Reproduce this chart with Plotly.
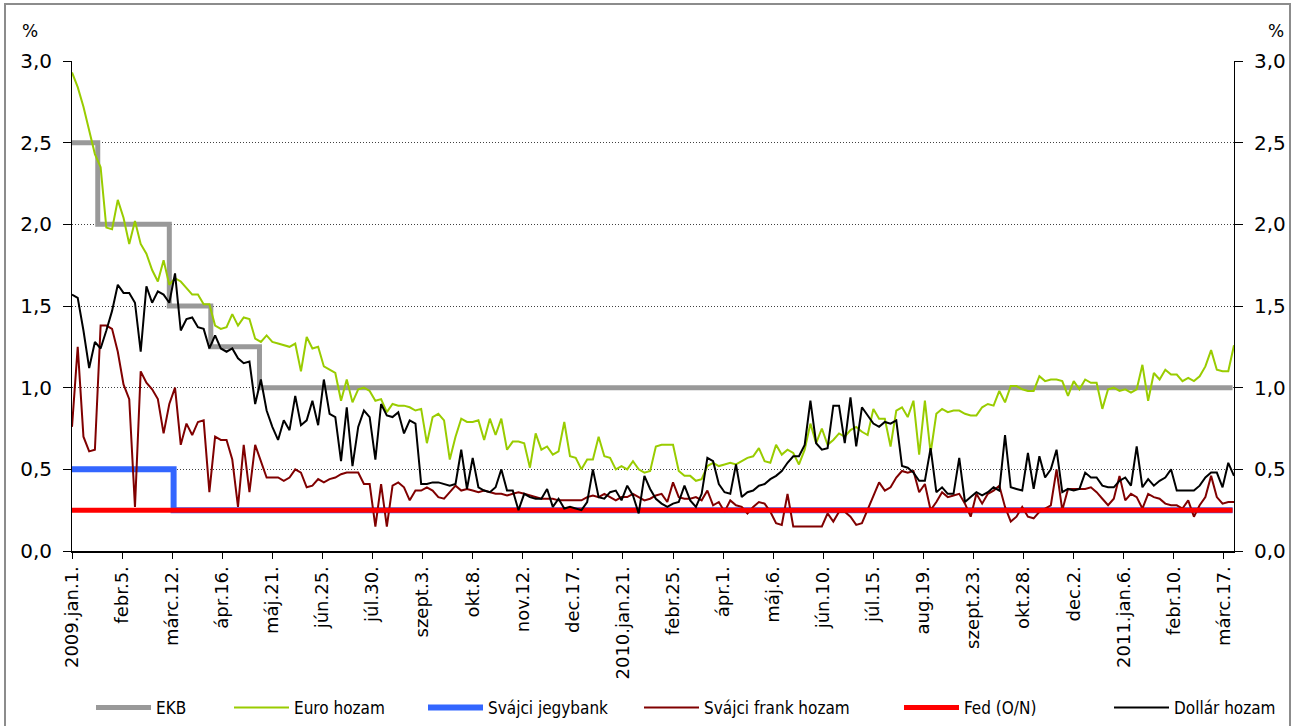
import pandas as pd
import plotly.graph_objects as go

# ---- Policy rates (step series) ----
ekb_dates = ["2009-01-01", "2009-01-19", "2009-03-10", "2009-04-08", "2009-05-12", "2011-03-23"]
ekb_rate = [2.5, 2.0, 1.5, 1.25, 1.0, 1.0]

snb_dates = ["2009-01-01", "2009-03-13", "2011-03-23"]
snb_rate = [0.5, 0.25, 0.25]

fed_dates = ["2009-01-01", "2011-03-23"]
fed_rate = [0.25, 0.25]

# ---- Market yields, sampled every 4 days from 2009-01-01 ----
euro_yield = [
    2.93, 2.84, 2.72, 2.58, 2.43, 2.35, 1.98, 1.97, 2.15, 2.04,
    1.88, 2.02, 1.88, 1.82, 1.72, 1.65, 1.78, 1.63, 1.67, 1.65,
    1.61, 1.57, 1.57, 1.51, 1.51, 1.38, 1.36, 1.37, 1.45, 1.38,
    1.43, 1.42, 1.30, 1.28, 1.32, 1.28, 1.27, 1.26, 1.25, 1.27,
    1.10, 1.31, 1.24, 1.25, 1.13, 1.11, 1.09, 0.92, 1.05, 0.91,
    0.99, 1.00, 0.98, 0.92, 0.93, 0.85, 0.90, 0.89, 0.89, 0.88,
    0.86, 0.87, 0.66, 0.82, 0.84, 0.80, 0.56, 0.70, 0.81, 0.79,
    0.79, 0.80, 0.68, 0.81, 0.71, 0.81, 0.62, 0.67, 0.67, 0.66,
    0.51, 0.72, 0.62, 0.64, 0.59, 0.61, 0.79, 0.58, 0.57, 0.50,
    0.56, 0.56, 0.70, 0.58, 0.57, 0.50, 0.52, 0.50, 0.55, 0.50,
    0.48, 0.49, 0.64, 0.65, 0.65, 0.65, 0.49, 0.46, 0.46, 0.43,
    0.44, 0.52, 0.54, 0.52, 0.53, 0.54, 0.53, 0.55, 0.57, 0.58,
    0.63, 0.55, 0.54, 0.65, 0.59, 0.62, 0.60, 0.53, 0.62, 0.78,
    0.66, 0.75, 0.65, 0.68, 0.72, 0.70, 0.74, 0.76, 0.73, 0.71,
    0.87, 0.81, 0.81, 0.64, 0.86, 0.88, 0.82, 0.92, 0.59, 0.92,
    0.60, 0.84, 0.87, 0.85, 0.86, 0.86, 0.84, 0.83, 0.83, 0.88,
    0.90, 0.89, 0.98, 0.91, 1.01, 1.01, 0.99, 0.98, 0.98, 1.07,
    1.04, 1.05, 1.05, 1.04, 0.95, 1.04, 0.99, 1.05, 1.03, 1.03,
    0.87, 0.99, 1.00, 0.98, 0.99, 0.97, 0.99, 1.14, 0.92, 1.09,
    1.05, 1.11, 1.08, 1.08, 1.04, 1.06, 1.04, 1.07, 1.13, 1.23,
    1.11, 1.10, 1.10, 1.26,
]

chf_yield = [
    0.76, 1.25, 0.70, 0.61, 0.62, 1.38, 1.38, 1.36, 1.22, 1.02,
    0.93, 0.27, 1.10, 1.03, 0.99, 0.93, 0.72, 0.90, 1.00, 0.65,
    0.78, 0.71, 0.79, 0.80, 0.36, 0.70, 0.68, 0.68, 0.56, 0.27,
    0.65, 0.36, 0.65, 0.55, 0.45, 0.45, 0.45, 0.43, 0.45, 0.50,
    0.48, 0.39, 0.40, 0.44, 0.42, 0.44, 0.45, 0.47, 0.48, 0.48,
    0.48, 0.41, 0.41, 0.15, 0.41, 0.15, 0.40, 0.42, 0.39, 0.31,
    0.37, 0.37, 0.39, 0.37, 0.33, 0.32, 0.36, 0.40, 0.37, 0.38,
    0.37, 0.36, 0.37, 0.36, 0.35, 0.35, 0.34, 0.35, 0.36, 0.35,
    0.34, 0.33, 0.32, 0.32, 0.32, 0.31, 0.31, 0.31, 0.31, 0.31,
    0.33, 0.34, 0.33, 0.35, 0.33, 0.31, 0.33, 0.33, 0.35, 0.33,
    0.31, 0.32, 0.34, 0.35, 0.30, 0.42, 0.33, 0.32, 0.32, 0.33,
    0.31, 0.37, 0.28, 0.30, 0.24, 0.31, 0.28, 0.27, 0.23, 0.27,
    0.30, 0.29, 0.24, 0.17, 0.16, 0.35, 0.15, 0.15, 0.15, 0.15,
    0.15, 0.15, 0.23, 0.18, 0.24, 0.24, 0.21, 0.16, 0.17, 0.25,
    0.34, 0.42, 0.37, 0.39, 0.45, 0.49, 0.48, 0.49, 0.36, 0.41,
    0.25, 0.30, 0.36, 0.33, 0.34, 0.35, 0.29, 0.21, 0.35, 0.29,
    0.35, 0.37, 0.40, 0.27, 0.18, 0.21, 0.27, 0.21, 0.20, 0.24,
    0.26, 0.28, 0.50, 0.25, 0.38, 0.38, 0.38, 0.38, 0.39, 0.36,
    0.32, 0.28, 0.32, 0.46, 0.31, 0.35, 0.33, 0.26, 0.35, 0.33,
    0.32, 0.29, 0.28, 0.28, 0.26, 0.31, 0.21, 0.28, 0.33, 0.46,
    0.33, 0.29, 0.30, 0.30,
]

usd_yield = [
    1.57, 1.55, 1.35, 1.12, 1.28, 1.24, 1.35, 1.47, 1.63, 1.58,
    1.58, 1.52, 1.22, 1.62, 1.52, 1.59, 1.57, 1.52, 1.70, 1.35,
    1.42, 1.43, 1.37, 1.36, 1.24, 1.32, 1.24, 1.22, 1.24, 1.18,
    1.15, 1.16, 0.90, 1.05, 0.86, 0.76, 0.68, 0.80, 0.74, 0.95,
    0.77, 0.80, 0.92, 0.77, 1.05, 0.84, 0.82, 0.55, 0.88, 0.52,
    0.76, 0.86, 0.82, 0.56, 0.90, 0.83, 0.82, 0.85, 0.72, 0.80,
    0.78, 0.41, 0.41, 0.42, 0.42, 0.41, 0.40, 0.41, 0.62, 0.38,
    0.57, 0.39, 0.37, 0.36, 0.39, 0.50, 0.37, 0.37, 0.25, 0.35,
    0.33, 0.32, 0.32, 0.38, 0.27, 0.32, 0.26, 0.27, 0.26, 0.25,
    0.30, 0.50, 0.33, 0.32, 0.36, 0.37, 0.31, 0.40, 0.34, 0.23,
    0.46, 0.38, 0.32, 0.29, 0.27, 0.29, 0.30, 0.40, 0.31, 0.27,
    0.35, 0.57, 0.55, 0.41, 0.36, 0.35, 0.53, 0.33, 0.36, 0.37,
    0.40, 0.41, 0.44, 0.46, 0.49, 0.54, 0.58, 0.58, 0.65, 0.92,
    0.66, 0.62, 0.63, 0.89, 0.89, 0.66, 0.94, 0.64, 0.88, 0.83,
    0.78, 0.76, 0.79, 0.78, 0.80, 0.52, 0.51, 0.48, 0.43, 0.43,
    0.63, 0.36, 0.39, 0.35, 0.35, 0.57, 0.30, 0.33, 0.36, 0.34,
    0.36, 0.39, 0.37, 0.71, 0.39, 0.38, 0.37, 0.60, 0.38, 0.58,
    0.45, 0.50, 0.62, 0.36, 0.38, 0.37, 0.38, 0.48, 0.45, 0.45,
    0.40, 0.39, 0.39, 0.43, 0.45, 0.40, 0.64, 0.39, 0.44, 0.40,
    0.43, 0.45, 0.50, 0.37, 0.37, 0.37, 0.37, 0.40, 0.45, 0.48,
    0.48, 0.39, 0.54, 0.46,
]

yield_dates = pd.date_range("2009-01-01", periods=len(euro_yield), freq="4D")

# ---- Axis labels ----
tick_dates = [
    "2009-01-01", "2009-02-05", "2009-03-12", "2009-04-16", "2009-05-21", "2009-06-25",
    "2009-07-30", "2009-09-03", "2009-10-08", "2009-11-12", "2009-12-17", "2010-01-21",
    "2010-02-25", "2010-04-01", "2010-05-06", "2010-06-10", "2010-07-15", "2010-08-19",
    "2010-09-23", "2010-10-28", "2010-12-02", "2011-01-06", "2011-02-10", "2011-03-17",
]
tick_labels = [
    "2009.jan.1.", "febr.5.", "márc.12.", "ápr.16.", "máj.21.", "jún.25.",
    "júl.30.", "szept.3.", "okt.8.", "nov.12.", "dec.17.", "2010.jan.21.",
    "febr.25.", "ápr.1.", "máj.6.", "jún.10.", "júl.15.", "aug.19.",
    "szept.23.", "okt.28.", "dec.2.", "2011.jan.6.", "febr.10.", "márc.17.",
]
y_ticks = [0.0, 0.5, 1.0, 1.5, 2.0, 2.5, 3.0]
y_labels = ["0,0", "0,5", "1,0", "1,5", "2,0", "2,5", "3,0"]

# ---- Page geometry (pixels) ----
W, H = 1298, 726
ML, MR, MT, MB = 72, 64, 61, 175
PW, PH = W - ML - MR, H - MT - MB


def px_x(x):
    return (x - ML) / PW


def px_y(y):
    return (H - MB - y) / PH


BASE_FAMILY = "DejaVu Sans, Verdana, sans-serif"
TICK_FONT = dict(family=BASE_FAMILY, size=18, color="#000000")
LEG_FONT = dict(family="DejaVu Sans Condensed, Liberation Sans Narrow, DejaVu Sans, sans-serif",
                size=17, color="#000000")
SAMPLE_W = 55

fig = go.Figure()

series = [
    ("EKB", ekb_dates, ekb_rate, "#999999", 5, "hv", "y", "legend"),
    ("Euro hozam", yield_dates, euro_yield, "#99CC00", 2, "linear", "y", "legend2"),
    ("Svájci jegybank", snb_dates, snb_rate, "#3366FF", 6, "hv", "y", "legend3"),
    ("Svájci frank hozam", yield_dates, chf_yield, "#800000", 2, "linear", "y", "legend4"),
    ("Fed (O/N)", fed_dates, fed_rate, "#FF0000", 5, "hv", "y2", "legend5"),
    ("Dollár hozam", yield_dates, usd_yield, "#000000", 2, "linear", "y2", "legend6"),
]
for name, xs, ys, color, width, shape, yax, leg in series:
    fig.add_trace(go.Scatter(
        x=xs, y=ys, name=name, mode="lines", yaxis=yax, legend=leg,
        line=dict(color=color, width=width, shape=shape),
    ))

# one legend entry per block, placed along the bottom edge
legend_text_x = [154, 292, 486, 702, 962, 1172]
legend_y = px_y(708)
legends = {}
for k, tx in enumerate(legend_text_x):
    key = "legend" if k == 0 else f"legend{k + 1}"
    legends[key] = dict(
        x=px_x(tx - SAMPLE_W - 8), y=legend_y, xanchor="left", yanchor="middle",
        orientation="h", bgcolor="rgba(0,0,0,0)", borderwidth=0,
        itemwidth=SAMPLE_W, font=LEG_FONT,
    )

axis_common = dict(
    range=[0, 3], tickvals=y_ticks, ticktext=y_labels,
    ticks="outside", ticklen=8, tickcolor="#000000", tickwidth=1,
    showline=True, linecolor="#000000", linewidth=1,
    tickfont=dict(family=BASE_FAMILY, size=20, color="#000000"),
    ticklabelstandoff=7,
    zeroline=False, fixedrange=True, automargin=False,
)

pct_font = dict(family=BASE_FAMILY, size=17, color="#000000")

fig.update_layout(
    width=W, height=H,
    margin=dict(l=ML, r=MR, t=MT, b=MB, pad=0, autoexpand=False),
    paper_bgcolor="#FFFFFF", plot_bgcolor="#FFFFFF",
    showlegend=True,
    xaxis=dict(
        type="date", range=["2009-01-01", "2011-03-24"],
        tickvals=tick_dates, ticktext=tick_labels, tickangle=-90,
        ticks="outside", ticklen=6, tickcolor="#000000",
        showline=True, linecolor="#000000", linewidth=2,
        showgrid=False, zeroline=False, tickfont=TICK_FONT, automargin=False,
    ),
    yaxis=dict(
        **axis_common, side="left",
        showgrid=True, gridcolor="#404040", gridwidth=1, griddash="1px,2px",
    ),
    yaxis2=dict(
        **axis_common, side="right", overlaying="y", showgrid=False,
    ),
    annotations=[
        dict(text="%", x=px_x(30), y=px_y(31), xref="paper", yref="paper",
             xanchor="center", yanchor="middle", showarrow=False, font=pct_font),
        dict(text="%", x=px_x(1276), y=px_y(31), xref="paper", yref="paper",
             xanchor="center", yanchor="middle", showarrow=False, font=pct_font),
    ],
    shapes=[
        dict(type="rect", xref="paper", yref="paper",
             x0=px_x(5), x1=px_x(1290), y0=px_y(760), y1=px_y(4),
             line=dict(color="#8C8C8C", width=2), fillcolor="rgba(0,0,0,0)", layer="below"),
    ],
    **legends,
)

fig.write_html("out.html", config={"displayModeBar": False})
